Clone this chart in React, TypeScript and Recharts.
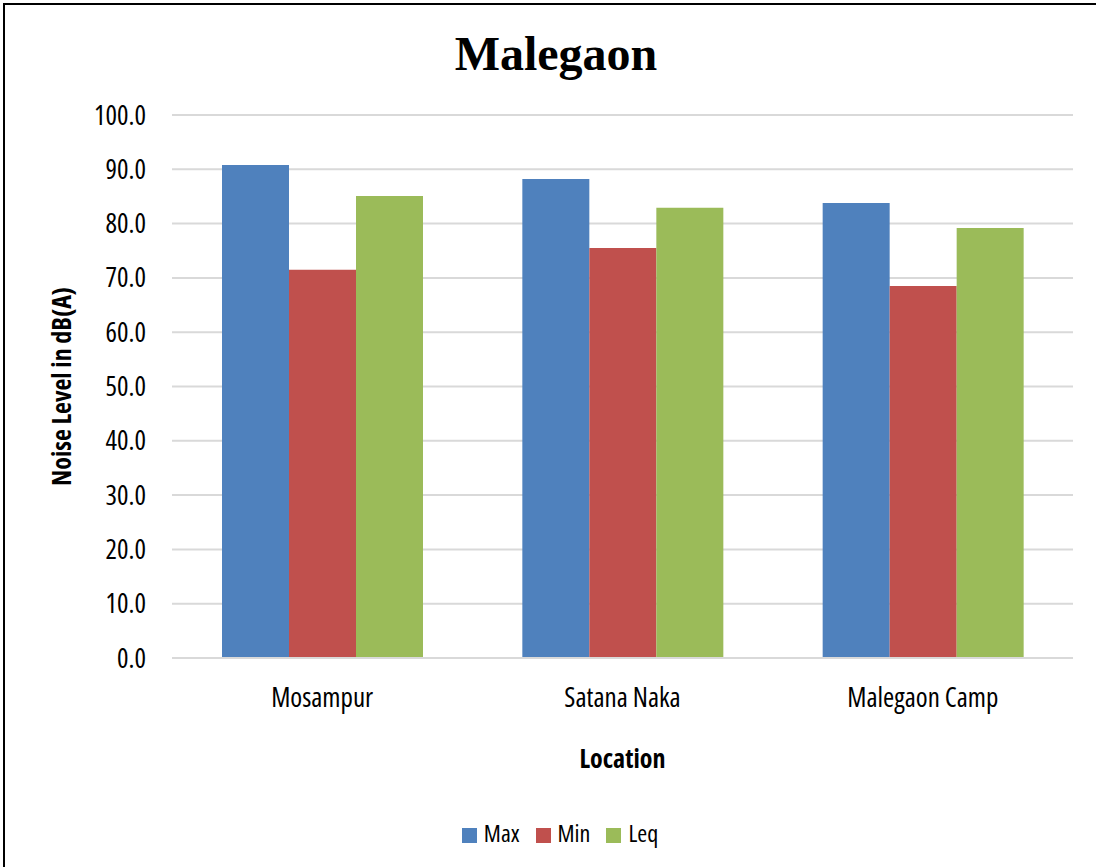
import { BarChart, Bar, XAxis, YAxis, CartesianGrid, Legend } from "recharts";

const locations = ["Mosampur", "Satana Naka", "Malegaon Camp"];
const maxLevel = [90.8, 88.2, 83.8];
const minLevel = [71.5, 75.5, 68.5];
const leqLevel = [85.1, 82.9, 79.2];
const yTicks = [0, 10, 20, 30, 40, 50, 60, 70, 80, 90, 100];
const seriesOrder = ["Max", "Min", "Leq"];

const BLUE = "#4f81bd";
const RED = "#c0504d";
const GREEN = "#9bbb59";
const GRID = "#d9d9d9";
// the original uses a tall, narrow face; Open Sans at condensed width is the closest installed
const NARROW = "'Open Sans', 'DejaVu Sans Condensed', sans-serif";
const narrow = { fontFamily: NARROW, fontStretch: "75%" } as const;

const data = locations.map((name, i) => ({
  name,
  Max: maxLevel[i],
  Min: minLevel[i],
  Leq: leqLevel[i],
}));

export default function App() {
  return (
    <div
      style={{
        position: "absolute",
        left: 0,
        top: 0,
        width: 1096,
        height: 867,
        background: "#fff",
        overflow: "hidden",
      }}
    >
      {/* frame: only the top and left edges show in the crop */}
      <div
        style={{
          position: "absolute",
          left: 3,
          top: 3,
          width: 1100,
          height: 870,
          borderTop: "2px solid #000",
          borderLeft: "2px solid #000",
        }}
      />
      <div
        style={{
          position: "absolute",
          top: 30,
          left: 0,
          width: 1112,
          textAlign: "center",
          fontFamily: "'Liberation Serif', 'Times New Roman', serif",
          fontWeight: 700,
          fontSize: 48,
          lineHeight: "48px",
          color: "#000",
        }}
      >
        Malegaon
      </div>
      <BarChart
        width={1096}
        height={867}
        data={data}
        margin={{ top: 115, right: 23, left: 60, bottom: 0 }}
        barCategoryGap={50}
        barGap={0}
        style={{ position: "absolute", left: 0, top: 0 }}
      >
        <CartesianGrid stroke={GRID} strokeWidth={2} vertical={false} />
        <XAxis
          dataKey="name"
          height={100}
          axisLine={{ stroke: GRID, strokeWidth: 2 }}
          tickLine={false}
          tickMargin={24}
          tick={{ fill: "#000", fontSize: 27, ...narrow }}
          label={{
            value: "Location",
            position: "insideBottom",
            offset: -10,
            style: { fill: "#000", fontSize: 26, fontWeight: 700, ...narrow },
          }}
        />
        <YAxis
          domain={[0, 100]}
          ticks={yTicks}
          width={112}
          axisLine={false}
          tickLine={false}
          tickMargin={20}
          tickFormatter={(v: number) => v.toFixed(1)}
          tick={{ fill: "#000", fontSize: 27, ...narrow }}
          label={{
            value: "Noise Level in dB(A)",
            angle: -90,
            position: "insideLeft",
            offset: 2,
            style: {
              textAnchor: "middle",
              fill: "#000",
              fontSize: 26,
              fontWeight: 700,
              ...narrow,
            },
          }}
        />
        <Legend
          verticalAlign="bottom"
          height={109}
          iconType="square"
          iconSize={15}
          itemSorter={(item: { value?: string }) => seriesOrder.indexOf(String(item.value))}
          wrapperStyle={{
            top: 816,
            left: 13,
            width: 1110,
            fontSize: 24,
            ...narrow,
          }}
          formatter={(value: string) => (
            <span style={{ color: "#000", marginLeft: 3, marginRight: 6 }}>{value}</span>
          )}
        />
        <Bar dataKey="Max" fill={BLUE} isAnimationActive={false} />
        <Bar dataKey="Min" fill={RED} isAnimationActive={false} />
        <Bar dataKey="Leq" fill={GREEN} isAnimationActive={false} />
      </BarChart>
    </div>
  );
}
